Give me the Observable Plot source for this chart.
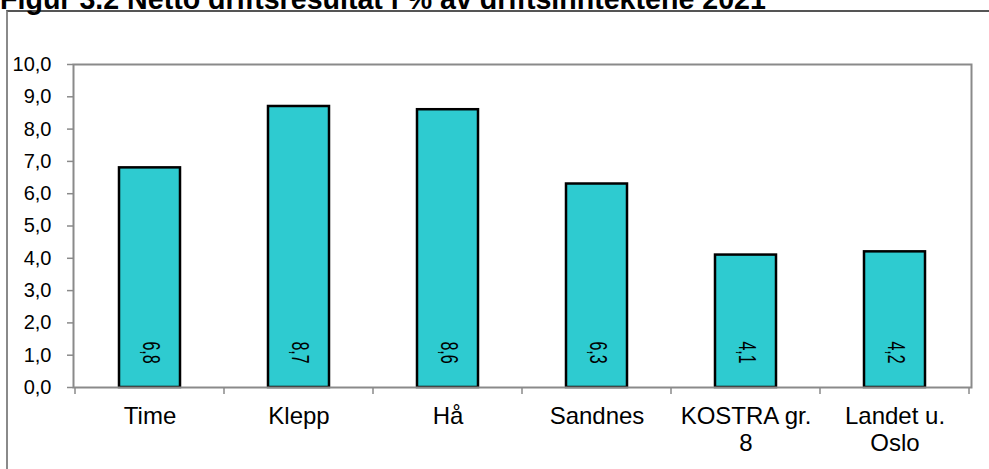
<!DOCTYPE html>
<html>
<head>
<meta charset="utf-8">
<script src="https://cdn.jsdelivr.net/npm/d3@7"></script>
<script src="https://cdn.jsdelivr.net/npm/@observablehq/plot@0.6"></script>
<style>
  html, body { margin: 0; padding: 0; background: #fff; overflow: hidden; }
  #wrap { position: relative; width: 989px; height: 469px; overflow: hidden; font-family: Arial, "Liberation Sans", sans-serif; }
  #title { position: absolute; left: 0; top: -15px; font-size: 28.6px; font-weight: bold; color: #000; white-space: nowrap; line-height: 28px; margin: 0; }
  #outer { position: absolute; left: 6px; top: 10px; width: 1000px; height: 500px; border-left: 2px solid #8a8a8a; border-top: 2px solid #555; box-sizing: border-box; }
  #chart { position: absolute; left: 0; top: 0; }
</style>
</head>
<body>
<div id="wrap">
  <div id="outer"></div>
  <h2 id="title">Figur 3.2 Netto driftsresultat i % av driftsinntektene 2021</h2>
  <div id="chart"></div>
</div>
<script>
const categories = ["Time", "Klepp", "Hå", "Sandnes", "KOSTRA gr. 8", "Landet u. Oslo"];
const tickLabels = ["Time", "Klepp", "Hå", "Sandnes", "KOSTRA gr.\n8", "Landet u.\nOslo"];
const values = [6.8, 8.7, 8.6, 6.3, 4.1, 4.2];
const yTicks = [0, 1, 2, 3, 4, 5, 6, 7, 8, 9, 10];

const data = categories.map((c, i) => ({cat: c, value: values[i]}));
const fmt = v => v.toFixed(1).replace(".", ",");
const labelOf = new Map(categories.map((c, i) => [c, tickLabels[i]]));

// category boundary ticks, computed from the band scale
const boundaryTicks = (index, scales, values, dims) => {
  const x = scales.x;
  const step = x(categories[1]) - x(categories[0]);
  const bw = typeof x.bandwidth === "function" ? x.bandwidth() : step * 0.41;
  const y0 = dims.height - dims.marginBottom;
  const pos = categories.map(c => x(c) + bw / 2 - step / 2);
  pos.push(x(categories[categories.length - 1]) + bw / 2 + step / 2);
  const g = d3.create("svg:g").attr("stroke", "#8a8a8a").attr("stroke-width", 1.5);
  for (const p of pos) g.append("line").attr("x1", p).attr("x2", p).attr("y1", y0).attr("y2", y0 + 7);
  return g.node();
};

const chart = Plot.plot({
  width: 989,
  height: 469,
  marginLeft: 73,
  marginRight: 18,
  marginTop: 64,
  marginBottom: 82,
  style: {fontFamily: "Arial, 'Liberation Sans', sans-serif", color: "#000", background: "transparent"},
  x: {domain: categories, paddingInner: 0.59, paddingOuter: 0.295, label: null},
  y: {domain: [0, 10], label: null},
  marks: [
    Plot.barY(data, {x: "cat", y: "value", fill: "#2ECBD0", stroke: "#000", strokeWidth: 2.5}),
    Plot.frame({stroke: "#8a8a8a", strokeWidth: 2}),
    Plot.axisY({ticks: yTicks, tickFormat: fmt, tickSize: 6, tickPadding: 16, fontSize: 20, stroke: "#8a8a8a", strokeWidth: 1.5, fill: "#000", label: null}),
    Plot.axisX({tickSize: 0, tickPadding: 18, tickFormat: d => labelOf.get(d), fontSize: 24, lineHeight: 1.1, fill: "#000", label: null}),
    boundaryTicks,
    Plot.text(data, {x: "cat", y: 0, text: d => fmt(d.value), rotate: 90, dy: -35, fontSize: 16, fill: "#000"})
  ]
});
// widen the rotated value labels across the bar, as in the reference
d3.select(chart).selectAll("text").each(function() {
  const own = this.getAttribute("transform") || "";
  if (own.includes("rotate(90")) this.setAttribute("transform", own + " scale(1,1.45)");
});
document.getElementById("chart").appendChild(chart);
</script>
</body>
</html>
